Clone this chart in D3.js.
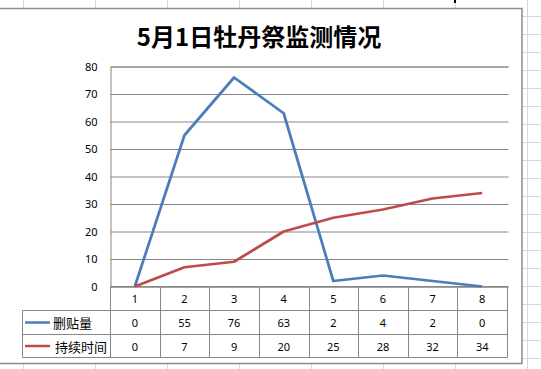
<!DOCTYPE html>
<html>
<head>
<meta charset="utf-8">
<script src="https://cdn.jsdelivr.net/npm/d3@7"></script>
<style>
  html, body { margin: 0; padding: 0; background: #fff; overflow: hidden; }
  svg { display: block; }
</style>
</head>
<body>
<svg id="sheet" width="541" height="369"></svg>
<script>
// chart values
var title = "5月1日牡丹祭监测情况";
var categories = ["1", "2", "3", "4", "5", "6", "7", "8"];
var seriesNames = ["删贴量", "持续时间"];
var deletions = [0, 55, 76, 63, 2, 4, 2, 0];
var durations = [0, 7, 9, 20, 25, 28, 32, 34];
var yTicks = [0, 10, 20, 30, 40, 50, 60, 70, 80];
var seriesColors = ["#4a7ebb", "#be4b48"];

var svg = d3.select("#sheet");

// spreadsheet grid behind the chart
var sheet = svg.append("g").attr("class", "cells");
sheet.selectAll("line.col")
    .data(d3.range(23, 541, 72))
    .enter().append("line")
        .attr("x1", function(d) { return d + 0.5; })
        .attr("x2", function(d) { return d + 0.5; })
        .attr("y1", 0).attr("y2", 369)
        .attr("stroke", "#d0d7e5");
sheet.selectAll("line.row")
    .data(d3.range(16.5, 369, 18))
    .enter().append("line")
        .attr("x1", 0).attr("x2", 541)
        .attr("y1", function(d) { return d; })
        .attr("y2", function(d) { return d; })
        .attr("stroke", "#d0d7e5");

// chart area
svg.append("rect")
    .attr("x", -5).attr("y", 8.5)
    .attr("width", 527).attr("height", 355)
    .attr("fill", "#fff")
    .attr("stroke", "#8c8c8c")
    .attr("stroke-width", 1.5);

// little selection handle at the top
svg.append("rect")
    .attr("x", 454).attr("y", 0)
    .attr("width", 2).attr("height", 3)
    .attr("fill", "#000");

svg.append("text")
    .attr("x", 259)
    .attr("y", 35)
    .attr("text-anchor", "middle")
    .attr("dominant-baseline", "central")
    .attr("font-family", "'Noto Sans CJK SC', sans-serif")
    .attr("font-weight", "bold")
    .attr("font-size", 24)
    .attr("fill", "#000")
    .text(title);

var plotLeft = 110, plotRight = 507;
var x = d3.scaleBand().domain(categories).range([plotLeft, plotRight]);
var y = d3.scaleLinear().domain([0, 80]).range([286.5, 66.5]);

// gridlines and y labels
var yAxis = svg.append("g")
    .attr("transform", "translate(" + (plotLeft + 0.5) + ",0)")
    .call(d3.axisLeft(y)
        .tickValues(yTicks)
        .tickSize(-(plotRight - plotLeft + 1))
        .tickPadding(13));
yAxis.select(".domain").attr("stroke", "#868686");
yAxis.selectAll(".tick line").attr("stroke", "#868686");
yAxis.selectAll(".tick text")
    .attr("font-family", "'Noto Sans', sans-serif")
    .attr("font-size", 11)
    .attr("fill", "#000");

// data table under the plot
var rowTop = [286.5, 310.5, 334.5, 357.5];
var legendLeft = 22.5;
var table = svg.append("g").attr("class", "data-table");
var lineColor = "#868686";

table.selectAll("line.h")
    .data(rowTop)
    .enter().append("line")
        .attr("x1", function(d, i) { return i === 0 ? plotLeft : legendLeft; })
        .attr("x2", plotRight + 0.5)
        .attr("y1", function(d) { return d; })
        .attr("y2", function(d) { return d; })
        .attr("stroke", lineColor);

var colEdges = categories.map(function(c) { return x(c); }).concat([plotRight]);
table.selectAll("line.v")
    .data(colEdges)
    .enter().append("line")
        .attr("x1", function(d) { return Math.round(d) + 0.5; })
        .attr("x2", function(d) { return Math.round(d) + 0.5; })
        .attr("y1", rowTop[0]).attr("y2", rowTop[3])
        .attr("stroke", lineColor);
table.append("line")
    .attr("x1", legendLeft).attr("x2", legendLeft)
    .attr("y1", rowTop[1]).attr("y2", rowTop[3])
    .attr("stroke", lineColor);

var rows = [categories, deletions, durations];
rows.forEach(function(vals, r) {
    var cy = (rowTop[r] + rowTop[r + 1]) / 2;
    table.selectAll("text.r" + r)
        .data(vals)
        .enter().append("text")
            .attr("x", function(d, i) { return x(categories[i]) + x.bandwidth() / 2; })
            .attr("y", cy)
            .attr("text-anchor", "middle")
            .attr("dominant-baseline", "central")
            .attr("font-family", "'Noto Sans', sans-serif")
            .attr("font-size", 11)
            .attr("fill", "#000")
            .text(function(d) { return d; });
});

// legend keys in the table
seriesNames.forEach(function(name, i) {
    var cy = (rowTop[i + 1] + rowTop[i + 2]) / 2;
    table.append("line")
        .attr("x1", 25).attr("x2", 50)
        .attr("y1", cy).attr("y2", cy)
        .attr("stroke", seriesColors[i])
        .attr("stroke-width", 2.5);
    table.append("text")
        .attr("x", i === 0 ? 53 : 55)
        .attr("y", cy)
        .attr("dominant-baseline", "central")
        .attr("font-family", "'Noto Sans CJK SC', sans-serif")
        .attr("font-size", 13)
        .attr("fill", "#000")
        .text(name);
});

// series lines
var line = d3.line()
    .x(function(d, i) { return x(categories[i]) + x.bandwidth() / 2; })
    .y(function(d) { return y(d); });

svg.selectAll("path.series")
    .data([deletions, durations])
    .enter().append("path")
        .attr("class", "series")
        .attr("d", line)
        .attr("fill", "none")
        .attr("stroke", function(d, i) { return seriesColors[i]; })
        .attr("stroke-width", 2.75)
        .attr("stroke-linejoin", "round");
</script>
</body>
</html>
